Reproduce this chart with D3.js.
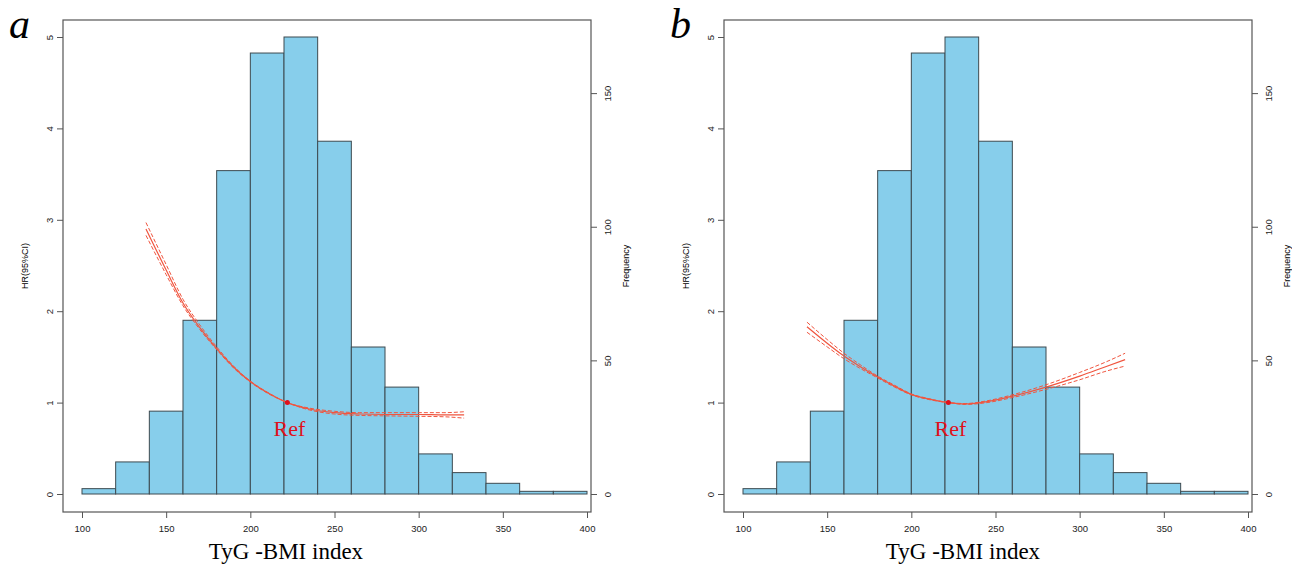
<!DOCTYPE html>
<html>
<head>
<meta charset="utf-8">
<script src="https://cdn.jsdelivr.net/npm/d3@7"></script>
<style>
  body { margin: 0; background: #fff; }
  svg { display: block; }
  .tick text { font-family: Arial, "Liberation Sans", sans-serif; font-size: 9.5px; fill: #222; }
  .tick line { stroke: #555; }
</style>
</head>
<body>
<svg id="chart" width="1292" height="566"></svg>
<script>
// histogram of TyG-BMI (bins of 20, from 100 to 400)
var binEdges = [100,120,140,160,180,200,220,240,260,280,300,320,340,360,380,400];
var freqCounts = [2,12,31,65,121,165,171,132,55,40,15,8,4,1,1];

var xTicks = [100,150,200,250,300,350,400];
var hrTicks = [0,1,2,3,4,5];
var freqTicks = [0,50,100,150];

// reference point of both curves
var refX = 222, refHR = 1;

// panel a : HR falls then flattens
var curveAX  = [138,150,160,170,180,190,200,210,222,235,250,265,280,300,315,327];
var curveAHR = [2.90,2.45,2.09,1.82,1.59,1.39,1.23,1.11,1.00,0.93,0.89,0.875,0.87,0.87,0.865,0.865];
var curveALo = [2.83,2.40,2.06,1.80,1.58,1.38,1.225,1.105,1.00,0.92,0.875,0.86,0.855,0.85,0.845,0.83];
var curveAHi = [2.97,2.51,2.13,1.85,1.61,1.40,1.235,1.115,1.00,0.94,0.905,0.89,0.89,0.89,0.89,0.90];

// panel b : U shaped curve
var curveBX  = [138,150,160,170,180,190,200,210,222,232,245,260,280,300,315,327];
var curveBHR = [1.83,1.65,1.51,1.39,1.28,1.18,1.09,1.04,1.00,0.985,1.01,1.07,1.17,1.29,1.39,1.47];
var curveBLo = [1.77,1.61,1.48,1.37,1.27,1.17,1.085,1.035,1.00,0.98,1.00,1.055,1.145,1.25,1.34,1.40];
var curveBHi = [1.88,1.69,1.54,1.41,1.29,1.19,1.095,1.045,1.00,0.99,1.02,1.085,1.195,1.33,1.44,1.54];

var panelLetters = ["a", "b"];
var xTitle = "TyG -BMI index";

var svg = d3.select("#chart");
var lineColor = "#f0553f";

var panels = [
  {letter: panelLetters[0], dx: 0,   titleX: 286, cx: curveAX, hr: curveAHR, lo: curveALo, hi: curveAHi},
  {letter: panelLetters[1], dx: 661, titleX: 302, cx: curveBX, hr: curveBHR, lo: curveBLo, hi: curveBHi}
];

panels.forEach(function(p){
  var g = svg.append("g").attr("transform", "translate(" + p.dx + ",0)");

  var x = d3.scaleLinear().domain([100, 400]).range([82, 587]);
  var y = d3.scaleLinear().domain([0, 5]).range([494, 37]);
  var yf = d3.scaleLinear().domain([0, d3.max(freqCounts)]).range([494, 37]);

  // bars
  g.selectAll("rect.bar")
    .data(freqCounts)
    .enter()
    .append("rect")
      .attr("class", "bar")
      .attr("x", function(d, i){ return x(binEdges[i]) })
      .attr("width", function(d, i){ return x(binEdges[i+1]) - x(binEdges[i]) })
      .attr("y", function(d){ return yf(d) })
      .attr("height", function(d){ return yf(0) - yf(d) })
      .style("fill", "#87ceeb")
      .attr("stroke", "#3d4a50")
      .attr("stroke-width", 1)

  // frame
  g.append("rect")
    .attr("x", 63).attr("y", 20)
    .attr("width", 591 - 63).attr("height", 512 - 20)
    .attr("fill", "none").attr("stroke", "#555").attr("stroke-width", 1.2)

  // axes
  var ax = g.append("g").attr("transform", "translate(0,512)")
    .call(d3.axisBottom(x).tickValues(xTicks).tickSize(6));
  ax.select(".domain").remove();
  ax.selectAll("text").attr("y", 13);

  var ay = g.append("g").attr("transform", "translate(63,0)")
    .call(d3.axisLeft(y).tickValues(hrTicks).tickFormat(d3.format("d")).tickSize(6));
  ay.select(".domain").remove();
  ay.selectAll("text")
    .attr("x", 0).attr("dy", "0.35em")
    .attr("text-anchor", "middle")
    .attr("transform", "translate(-13,0) rotate(-90)");

  var af = g.append("g").attr("transform", "translate(591,0)")
    .call(d3.axisRight(yf).tickValues(freqTicks).tickFormat(d3.format("d")).tickSize(6));
  af.select(".domain").remove();
  af.selectAll("text")
    .attr("x", 0).attr("dy", "0.35em")
    .attr("text-anchor", "middle")
    .attr("transform", "translate(17,0) rotate(-90)");

  // axis titles
  g.append("text")
    .attr("transform", "translate(28,266) rotate(-90)")
    .attr("text-anchor", "middle")
    .style("font-family", "Arial, 'Liberation Sans', sans-serif")
    .style("font-size", "9px")
    .text("HR(95%CI)");

  g.append("text")
    .attr("transform", "translate(629,266) rotate(-90)")
    .attr("text-anchor", "middle")
    .style("font-family", "Arial, 'Liberation Sans', sans-serif")
    .style("font-size", "9px")
    .text("Frequency");

  g.append("text")
    .attr("x", p.titleX).attr("y", 559)
    .attr("text-anchor", "middle")
    .style("font-family", "'Times New Roman', 'Liberation Serif', serif")
    .style("font-size", "23px")
    .text(xTitle);

  // panel letter
  g.append("text")
    .attr("x", 9).attr("y", 38)
    .style("font-family", "'Times New Roman', 'Liberation Serif', serif")
    .style("font-style", "italic")
    .style("font-size", "42px")
    .text(p.letter);

  // HR curve with CI
  var line = d3.line()
    .x(function(d){ return x(d[0]) })
    .y(function(d){ return y(d[1]) })
    .curve(d3.curveMonotoneX);

  [[p.lo, "4,2"], [p.hi, "4,2"], [p.hr, null]].forEach(function(s){
    g.append("path")
      .datum(p.cx.map(function(v, i){ return [v, s[0][i]] }))
      .attr("d", line)
      .attr("fill", "none")
      .attr("stroke", lineColor)
      .attr("stroke-width", s[1] ? 1 : 1.2)
      .attr("stroke-dasharray", s[1]);
  });

  g.append("circle")
    .attr("cx", x(refX)).attr("cy", y(refHR)).attr("r", 2.5)
    .attr("fill", "#e0101a");

  g.append("text")
    .attr("x", x(refX) + 2).attr("y", y(refHR) + 33)
    .attr("text-anchor", "middle")
    .style("font-family", "'Times New Roman', 'Liberation Serif', serif")
    .style("font-size", "22px")
    .style("fill", "#e0101a")
    .text("Ref");
});
</script>
</body>
</html>
